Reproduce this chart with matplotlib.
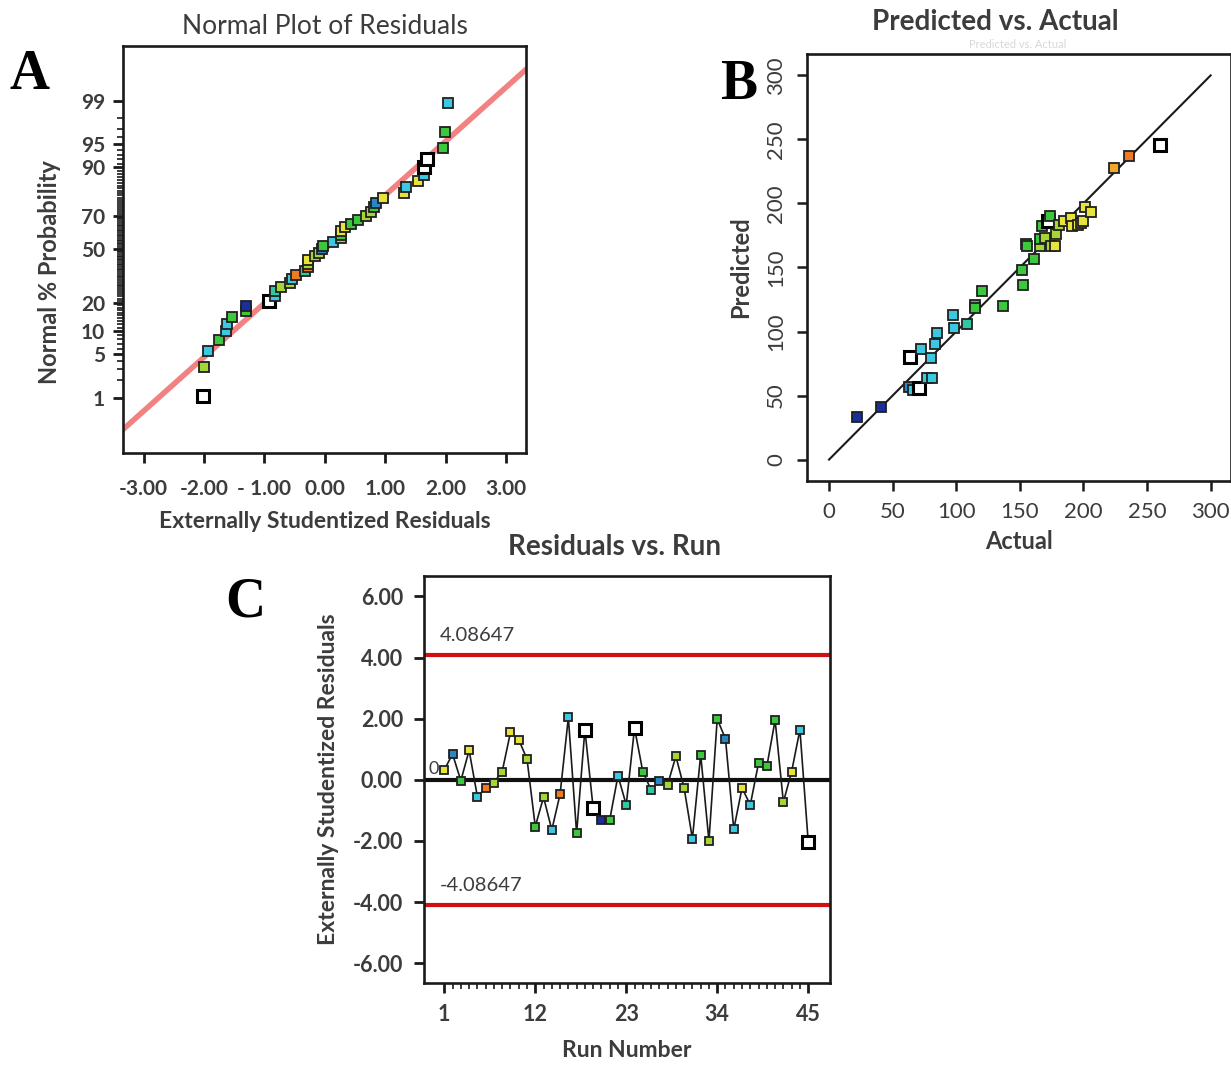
import matplotlib
matplotlib.use("Agg")
import matplotlib.pyplot as plt
from statistics import NormalDist

plt.rcParams['font.family'] = ['Lato', 'DejaVu Sans']

# ---- data ----
# panel A: normal probability plot
a_resid = [-2.02, -2.00, -1.93, -1.75, -1.64, -1.62, -1.53, -1.31, -1.31, -0.93,
           -0.82, -0.82, -0.73, -0.57, -0.55, -0.47, -0.33, -0.27, -0.27, -0.27,
           -0.16, -0.09, -0.05, -0.03, 0.13, 0.27, 0.27, 0.27, 0.33, 0.44,
           0.55, 0.68, 0.77, 0.82, 0.84, 0.96, 1.31, 1.34, 1.55, 1.64,
           1.64, 1.69, 1.95, 1.99, 2.04]
a_prob = [1.1, 3.3, 5.6, 7.8, 10.0, 12.2, 14.4, 16.7, 18.9, 21.1,
          23.3, 25.6, 27.8, 30.0, 32.2, 34.4, 36.7, 38.9, 41.1, 43.3,
          45.6, 47.8, 50.0, 52.2, 54.4, 56.7, 58.9, 61.1, 63.3, 65.6,
          67.8, 70.0, 72.2, 74.4, 76.7, 78.9, 81.1, 83.3, 85.6, 87.8,
          90.0, 92.2, 94.4, 96.7, 98.9]
a_col = ['w', 'yg', 'c', 'g', 'c', 'c', 'g', 'g', 'db', 'w',
         'c', 't', 'yg', 'yg', 'c', 'o', 't', 'o', 'yg', 'y',
         'yg', 'yg', 'b', 'g', 'c', 'yg', 'g', 'y', 'y', 'g',
         'g', 'yg', 'yg', 'g', 'b', 'y', 'y', 'c', 'y', 'c',
         'w', 'w', 'g', 'g', 'c']
a_line_x = [-3.35, 3.35]
a_line_y = [-2.83, 2.83]
a_yticks = [1, 5, 10, 20, 50, 70, 90, 95, 99]
a_xticks = [-3, -2, -1, 0, 1, 2, 3]
a_xlabels = ['-3.00', '-2.00', '- 1.00', '0.00', '1.00', '2.00', '3.00']

# panel B: predicted vs actual
b_actual = [22, 40.5, 63.5, 62.7, 65.7, 71, 72, 76.8, 81, 80,
            83.4, 84.7, 97.4, 98, 108.5, 114.4, 115, 120, 136.9, 152,
            152.8, 155, 155.7, 161.5, 166, 165.5, 167.3, 170, 172, 173.4,
            174.7, 177.4, 178.7, 180.6, 184.8, 190, 191, 196, 198, 200,
            201, 206, 223.7, 235.6, 260]
b_pred = [33, 41, 80, 57, 54, 56, 86, 63.5, 64, 79,
          90, 99, 113, 103, 106, 121, 118.6, 131.6, 120, 148,
          136.7, 168, 166.4, 156.7, 167, 172.5, 182.3, 173, 186, 190,
          167, 167, 176, 183, 186, 188.7, 182, 183, 184.5, 186,
          197.6, 193.4, 227.7, 237.4, 245.8]
b_col = ['db', 'db', 'w', 'b', 'c', 'w', 'c', 'c', 'c', 'c',
         'c', 'c', 'c', 'c', 't', 'g', 'g', 'g', 'g', 'g',
         'g', 'g', 'g', 'g', 'yg', 'g', 'g', 'yg', 'w', 'g',
         'yg', 'y', 'yg', 'yg', 'y', 'y', 'y', 'y', 'y', 'y',
         'y', 'y', 'oy', 'o', 'w']
b_ticks = [0, 50, 100, 150, 200, 250, 300]

# panel C: residuals vs run
c_run = list(range(1, 46))
c_resid = [0.33, 0.84, -0.03, 0.96, -0.55, -0.27, -0.09, 0.27, 1.55, 1.31,
           0.68, -1.53, -0.57, -1.64, -0.47, 2.04, -1.75, 1.64, -0.93, -1.31,
           -1.31, 0.13, -0.82, 1.69, 0.27, -0.33, -0.05, -0.16, 0.77, -0.27,
           -1.93, 0.82, -2.00, 1.99, 1.34, -1.62, -0.27, -0.82, 0.55, 0.44,
           1.95, -0.73, 0.27, 1.64, -2.02]
c_col = ['y', 'b', 'g', 'y', 'c', 'o', 'yg', 'yg', 'y', 'y',
         'yg', 'g', 'yg', 'c', 'o', 'c', 'g', 'w', 'w', 'db',
         'g', 'c', 't', 'w', 'g', 't', 'b', 'yg', 'yg', 'yg',
         'c', 'g', 'yg', 'g', 'b', 'c', 'y', 'c', 'g', 'g',
         'g', 'yg', 'y', 'c', 'w']
c_limit = 4.08647
c_xticks = [1, 12, 23, 34, 45]
c_yticks = [-6, -4, -2, 0, 2, 4, 6]

palette = {'db': '#1a2e9e', 'b': '#2b86c8', 'c': '#3cc8e0', 't': '#2fc8a0',
           'g': '#3cc83c', 'yg': '#a6d634', 'y': '#e8e23c', 'o': '#ee7a22',
           'oy': '#f0a82c', 'w': '#ffffff'}

txt = '#3c3c3c'
nd = NormalDist()

fig = plt.figure(figsize=(12.31, 10.65), dpi=100)


def squares(ax, xs, ys, cols, ms, ms_w):
    for x, y, c in zip(xs, ys, cols):
        if c == 'w':
            ax.plot(x, y, 's', ms=ms_w, mfc='white', mec='black', mew=2.2, zorder=4)
        else:
            ax.plot(x, y, 's', ms=ms, mfc=palette[c], mec='#202020', mew=1.3, zorder=4)


def frame(ax):
    for s in ax.spines.values():
        s.set_linewidth(1.9)
        s.set_color('#1a1a1a')


# ---- A ----
axA = fig.add_axes([0.0999, 0.5746, 0.3274, 0.3822])
frame(axA)
axA.plot(a_line_x, a_line_y, color='#f28282', lw=4, zorder=2, solid_capstyle='butt')
squares(axA, a_resid, [nd.inv_cdf(p / 100) for p in a_prob], a_col, 7, 9)
axA.set_xlim(-3.34, 3.33)
axA.set_ylim(-3.19, 3.18)
axA.set_xticks(a_xticks)
axA.set_xticklabels(a_xlabels)
axA.set_yticks([nd.inv_cdf(p / 100) for p in a_yticks])
axA.set_yticklabels([str(p) for p in a_yticks])
axA.set_yticks([nd.inv_cdf(p / 100) for p in range(1, 100)], minor=True)
axA.tick_params(axis='both', which='major', direction='out', length=7, width=2,
                labelsize=15, colors='#1a1a1a', labelcolor=txt, pad=6)
axA.tick_params(axis='x', which='major', pad=12)
axA.tick_params(axis='y', which='minor', direction='out', length=4, width=1.2, color='#1a1a1a')
for lb in axA.get_xticklabels() + axA.get_yticklabels():
    lb.set_fontweight('bold')
axA.set_title('Normal Plot of Residuals', fontsize=19, color=txt, pad=9)
axA.set_xlabel('Externally Studentized Residuals', fontsize=16.5, fontweight='bold', color=txt, labelpad=8)
axA.set_ylabel('Normal % Probability', fontsize=17, fontweight='bold', color=txt)
axA.yaxis.set_label_coords(-0.155, 0.445)
fig.text(0.008, 0.93, 'A', fontsize=40, fontweight='bold', family='Liberation Serif', va='center')

# ---- B ----
axB = fig.add_axes([0.6556, 0.5484, 0.3444, 0.4009])
frame(axB)
axB.plot([0, 300], [0, 300], color='#1a1a1a', lw=1.5, zorder=2)
squares(axB, b_actual, b_pred, b_col, 7, 9)
axB.set_xlim(-17.3, 316)
axB.set_ylim(-16.7, 316.7)
axB.set_xticks(b_ticks)
axB.set_yticks(b_ticks)
axB.tick_params(axis='both', direction='out', length=7, width=1.8, labelsize=16,
                colors='#1a1a1a', labelcolor=txt, pad=8)
for lb in axB.get_yticklabels():
    lb.set_rotation(90)
    lb.set_va('center')
fig.text(995 / 1231, 1 - 22 / 1065, 'Predicted vs. Actual', fontsize=20, fontweight='bold',
         color=txt, ha='center', va='center')
fig.text(1018 / 1231, 1 - 45 / 1065, 'Predicted vs. Actual', ha='center', va='center',
         fontsize=8, color='#d8d8d8')
axB.set_xlabel('Actual', fontsize=17, fontweight='bold', color=txt, labelpad=6)
axB.set_ylabel('Predicted', fontsize=17, fontweight='bold', color=txt, labelpad=10)
fig.text(0.585, 0.92, 'B', fontsize=40, fontweight='bold', family='Liberation Serif', va='center')

# ---- C ----
axC = fig.add_axes([0.3444, 0.077, 0.3298, 0.3822])
frame(axC)
axC.axhline(c_limit, color='#d01010', lw=3, zorder=2)
axC.axhline(-c_limit, color='#d01010', lw=3, zorder=2)
axC.axhline(0, color='#101010', lw=3, zorder=2)
axC.plot(c_run, c_resid, color='#1a1a1a', lw=1.2, zorder=3)
squares(axC, c_run, c_resid, c_col, 6, 8)
axC.text(0.5, c_limit + 0.35, '4.08647', fontsize=14.5, color=txt, va='bottom')
axC.text(0.5, -c_limit + 0.35, '-4.08647', fontsize=14.5, color=txt, va='bottom')
axC.text(-0.3, 0.35, '0', fontsize=13, color=txt, ha='center', va='center')
axC.set_xlim(-1.46, 47.63)
axC.set_ylim(-6.65, 6.67)
axC.set_xticks(c_xticks)
axC.set_xticks(c_run, minor=True)
axC.set_yticks(c_yticks)
axC.set_yticklabels(['%.2f' % v for v in c_yticks])
axC.tick_params(axis='both', which='major', direction='out', length=7, width=2,
                labelsize=15.5, colors='#1a1a1a', labelcolor=txt, pad=8)
axC.tick_params(axis='x', which='minor', direction='out', length=4, width=1.2, color='#1a1a1a')
for lb in axC.get_xticklabels() + axC.get_yticklabels():
    lb.set_fontweight('bold')
fig.text(614 / 1231, 1 - 547 / 1065, 'Residuals vs. Run', fontsize=20, fontweight='bold',
         color=txt, ha='center', va='center')
axC.set_xlabel('Run Number', fontsize=16.5, fontweight='bold', color=txt, labelpad=11)
axC.set_ylabel('Externally Studentized Residuals', fontsize=16.5, fontweight='bold', color=txt, labelpad=10)
fig.text(0.183, 0.434, 'C', fontsize=40, fontweight='bold', family='Liberation Serif', va='center')

fig.savefig('out.png', dpi=100)
